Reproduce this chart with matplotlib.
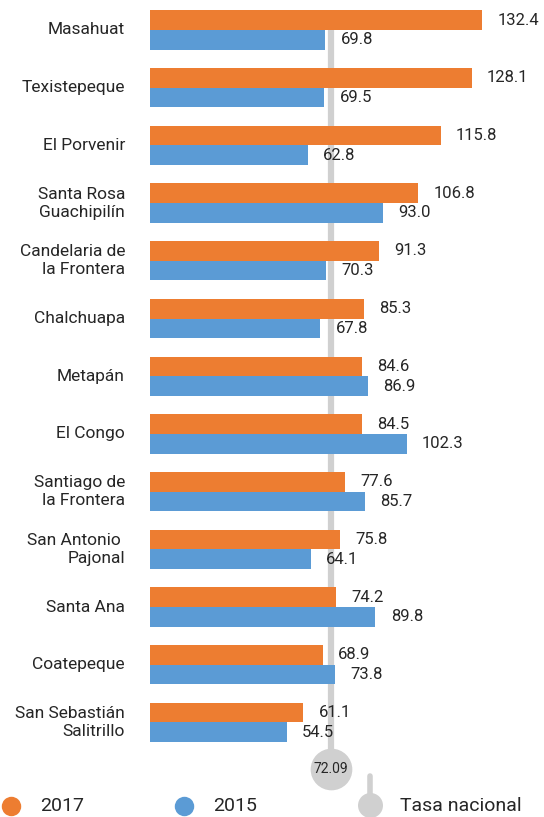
import matplotlib
matplotlib.use('Agg')
import matplotlib.pyplot as plt
import numpy as np

# データ
municipios = ['Masahuat', 'Texistepeque', 'El Porvenir', 'Santa Rosa\nGuachipilín',
              'Candelaria de\nla Frontera', 'Chalchuapa', 'Metapán', 'El Congo',
              'Santiago de\nla Frontera', 'San Antonio \nPajonal', 'Santa Ana',
              'Coatepeque', 'San Sebastián\nSalitrillo']
tasa_2017 = [132.4, 128.1, 115.8, 106.8, 91.3, 85.3, 84.6, 84.5, 77.6, 75.8, 74.2, 68.9, 61.1]
tasa_2015 = [69.8, 69.5, 62.8, 93.0, 70.3, 67.8, 86.9, 102.3, 85.7, 64.1, 89.8, 73.8, 54.5]
tasa_nacional = 72.09
series_labels = ['2017', '2015', 'Tasa nacional']

c_2017 = '#ED7D31'
c_2015 = '#5B9BD5'
c_gris = '#D0D0D0'
c_texto = '#262626'

plt.rcParams['font.family'] = ['Roboto', 'DejaVu Sans']

W, H = 544, 817
fig = plt.figure(figsize=(W / 100, H / 100), dpi=100)

# 棒グラフ用の軸
x0 = 150
px_per_unit = 2.51
row_px = 57.7
first_px = 30
ax = fig.add_axes([x0 / W, 0, (W - x0) / W, 1])
ax.set_xlim(0, (W - x0) / px_per_unit)
ax.set_ylim((H - first_px) / row_px, -first_px / row_px)
ax.axis('off')

y = np.arange(len(municipios))
h = 0.34

# 全国平均の縦線と円
circle_y = (769 - first_px) / row_px
ax.plot([tasa_nacional, tasa_nacional], [-h, circle_y], color=c_gris, lw=4.5,
        solid_capstyle='butt', zorder=1)
ax.plot(tasa_nacional, circle_y, 'o', ms=30, color=c_gris, mec='none', zorder=2)
ax.text(tasa_nacional, circle_y, f'{tasa_nacional:.2f}', ha='center', va='center',
        fontsize=10, color=c_texto, zorder=3)

ax.barh(y - h / 2, tasa_2017, height=h, color=c_2017, zorder=2)
ax.barh(y + h / 2, tasa_2015, height=h, color=c_2015, zorder=2)

for yi, v in zip(y, tasa_2017):
    ax.annotate(f'{v:.1f}', (v, yi - h / 2), xytext=(11, 0), textcoords='offset points',
                ha='left', va='center', fontsize=12, color=c_texto, zorder=4)
for yi, v in zip(y, tasa_2015):
    ax.annotate(f'{v:.1f}', (v, yi + h / 2), xytext=(11, 0), textcoords='offset points',
                ha='left', va='center', fontsize=12, color=c_texto, zorder=4)

# 市町村名
for yi, name in zip(y, municipios):
    ax.annotate(name, (0, yi), xytext=(-18, 0), textcoords='offset points',
                ha='right', va='center', fontsize=12.5, color=c_texto,
                linespacing=1.25, annotation_clip=False)

# 凡例（ピクセル座標）
lg = fig.add_axes([0, 0, 1, 1])
lg.set_xlim(0, W)
lg.set_ylim(H, 0)
lg.axis('off')
lg.patch.set_alpha(0)
lg.plot(11, 806, 'o', ms=14, color=c_2017, mec='none')
lg.text(40, 806, series_labels[0], va='center', fontsize=14, color=c_texto)
lg.plot(184, 806, 'o', ms=14, color=c_2015, mec='none')
lg.text(213, 806, series_labels[1], va='center', fontsize=14, color=c_texto)
lg.plot([370, 370], [776, 805], color=c_gris, lw=4, solid_capstyle='round')
lg.plot(370, 805, 'o', ms=18, color=c_gris, mec='none')
lg.text(400, 806, series_labels[2], va='center', fontsize=14, color=c_texto)

plt.savefig('out.png', dpi=100)
plt.close()
